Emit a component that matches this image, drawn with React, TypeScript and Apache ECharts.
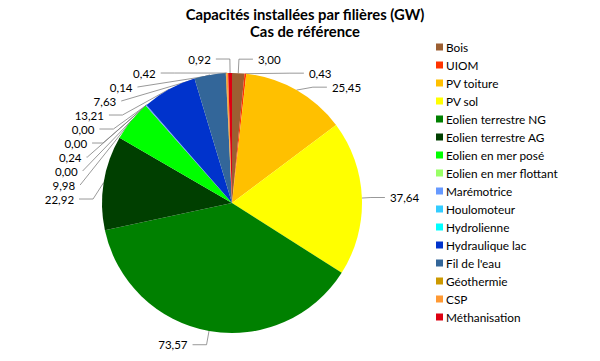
import React, { useEffect, useRef } from "react";
import * as echarts from "echarts";

const categories = [
  "Bois", "UIOM", "PV toiture", "PV sol", "Eolien terrestre NG", "Eolien terrestre AG",
  "Eolien en mer posé", "Eolien en mer flottant", "Marémotrice", "Houlomoteur",
  "Hydrolienne", "Hydraulique lac", "Fil de l'eau", "Géothermie", "CSP", "Méthanisation",
];
const values = [3.0, 0.43, 25.45, 37.64, 73.57, 22.92, 9.98, 0.0, 0.24, 0.0, 0.0, 13.21, 7.63, 0.14, 0.42, 0.92];
const colors = [
  "#9C5F32", "#FF3300", "#FFC000", "#FFFF00", "#008000", "#003F00",
  "#00FF00", "#99FF66", "#6699FF", "#33CCFF", "#00FFFF", "#0033CC",
  "#336699", "#CC9900", "#FF9933", "#DD0011",
];

export default function App() {
  const ref = useRef<HTMLDivElement>(null);
  useEffect(() => {
    const chart = echarts.init(ref.current!, undefined, { renderer: "svg" });
    const font = "Lato, 'Open Sans', sans-serif";
    chart.setOption({
      animation: false,
      color: colors,
      title: {
        text: "Capacités installées par filières (GW)\nCas de référence",
        left: 300,
        textAlign: "center",
        top: 0,
        textStyle: { fontFamily: font, fontSize: 14.8, fontWeight: "bold", color: "#000", lineHeight: 17 },
      },
      legend: {
        orient: "vertical",
        left: 431,
        top: 36,
        itemWidth: 7,
        itemHeight: 7,
        itemGap: 6,
        icon: "rect",
        data: categories,
        textStyle: { fontFamily: font, fontSize: 11.8, color: "#000", padding: [0, 0, 0, -2] },
      },
      series: [
        {
          type: "pie",
          center: [232, 203],
          radius: 130,
          startAngle: 90,
          clockwise: true,
          avoidLabelOverlap: true,
          minShowLabelAngle: 0,
          stillShowZeroSum: true,
          data: categories.map((c, i) => ({ name: c, value: values[i] })),
          label: {
            show: true,
            position: "outside",
            formatter: (p: any) => p.value.toFixed(2).replace(".", ","),
            fontFamily: font,
            fontSize: 11.5,
            lineHeight: 11,
            color: "#000",
          },
          labelLine: {
            show: true,
            length: 14,
            length2: 14,
            lineStyle: { color: "#7f7f7f", width: 0.8 },
          },
          itemStyle: { borderWidth: 0 },
          emphasis: { disabled: true },
        },
      ],
    });
    return () => chart.dispose();
  }, []);
  return <div ref={ref} style={{ position: "absolute", left: 0, top: 0, width: 600, height: 361 }} />;
}
